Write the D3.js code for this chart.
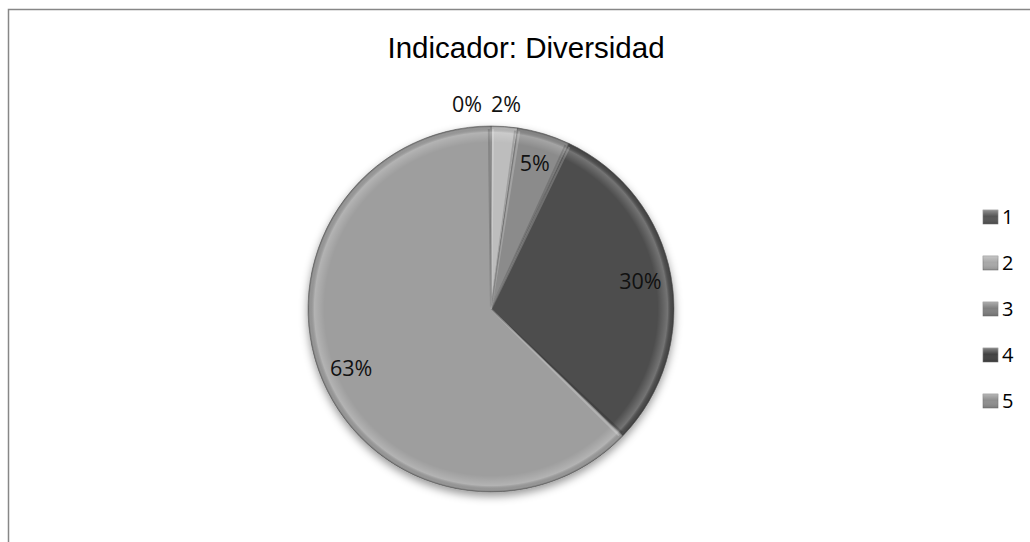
<!DOCTYPE html>
<html><head><meta charset="utf-8">
<script src="https://cdn.jsdelivr.net/npm/d3@7"></script>
<style>html,body{margin:0;padding:0;background:#fff;overflow:hidden}</style>
</head><body>
<script>
const categories = ["1", "2", "3", "4", "5"];
const values = [0, 1, 2, 13, 27];
const colors = ["#595959", "#bdbdbd", "#8b8b8b", "#4d4d4d", "#9e9e9e"];
const legendColors = ["#555555", "#a8a8a8", "#808080", "#414141", "#8e8e8e"];
const title = "Indicador: Diversidad";

const W = 1030, H = 542;
const svg = d3.select("body").append("svg").attr("width", W).attr("height", H);
const defs = svg.append("defs");

// frame
svg.append("rect").attr("x", 8.5).attr("y", 9.5).attr("width", 1100).attr("height", 1100)
  .attr("fill", "none").attr("stroke", "#878787").attr("stroke-width", 1.5);

svg.append("text").attr("x", 526).attr("y", 58).attr("text-anchor", "middle")
  .attr("font-family", "Liberation Sans, Arial, sans-serif").attr("font-size", 29.5)
  .attr("fill", "#000").text(title);

const cx = 491, cy = 309, R = 183;
const total = d3.sum(values);

const shadow = defs.append("filter").attr("id", "sh").attr("x", "-20%").attr("y", "-20%").attr("width", "140%").attr("height", "140%");
shadow.append("feDropShadow").attr("dx", 0).attr("dy", 4).attr("stdDeviation", 4).attr("flood-color", "#000").attr("flood-opacity", 0.4);

const rim = defs.append("radialGradient").attr("id", "rim").attr("gradientUnits", "userSpaceOnUse")
  .attr("cx", 0).attr("cy", 0).attr("r", R);
rim.append("stop").attr("offset", "0.91").attr("stop-color", "#fff").attr("stop-opacity", 0);
rim.append("stop").attr("offset", "0.965").attr("stop-color", "#fff").attr("stop-opacity", 0.22);
rim.append("stop").attr("offset", "0.99").attr("stop-color", "#000").attr("stop-opacity", 0.05);
rim.append("stop").attr("offset", "1").attr("stop-color", "#000").attr("stop-opacity", 0.3);

const pie = d3.pie().sort(null).value(d => d)(values);
const arc = d3.arc().innerRadius(0).outerRadius(R);
const g = svg.append("g").attr("transform", `translate(${cx},${cy})`);

const slices = g.append("g").attr("filter", "url(#sh)");
slices.selectAll("path").data(pie).join("path")
  .attr("d", arc).attr("fill", (d, i) => colors[i])
  .attr("stroke", "#707070").attr("stroke-width", 0.7).attr("stroke-linejoin", "round");

g.append("circle").attr("r", R).attr("fill", "url(#rim)");

// bevel highlight lines along slice edges
g.selectAll("line.edge").data(pie.filter(d => d.value > 0)).join("line")
  .attr("class", "edge")
  .attr("x1", 0).attr("y1", 0)
  .attr("x2", d => Math.sin(d.endAngle - 0.012) * (R - 3))
  .attr("y2", d => -Math.cos(d.endAngle - 0.012) * (R - 3))
  .attr("stroke", "#000").attr("stroke-opacity", 0.15).attr("stroke-width", 2);
g.selectAll("line.edge2").data(pie.filter(d => d.value > 0)).join("line")
  .attr("class", "edge2")
  .attr("x1", 0).attr("y1", 0)
  .attr("x2", d => Math.sin(d.startAngle + 0.012) * (R - 3))
  .attr("y2", d => -Math.cos(d.startAngle + 0.012) * (R - 3))
  .attr("stroke", "#fff").attr("stroke-opacity", 0.2).attr("stroke-width", 2);

// labels
const inner = d3.arc().innerRadius(R * 0.83).outerRadius(R * 0.83);
const outer = d3.arc().innerRadius(R * 1.12).outerRadius(R * 1.12);
const labelFont = "Open Sans, Noto Sans, sans-serif";
pie.forEach((d, i) => {
  const pct = Math.round(d.value / total * 100) + "%";
  const small = d.value / total < 0.035;
  let [x, y] = (small ? outer : inner).centroid(d);
  let anchor = "middle";
  if (d.value === 0) {
    const nb = outer.centroid(pie[i + 1]);
    x = nb[0] - 24; y = nb[1]; anchor = "end";
  }
  g.append("text").attr("x", x).attr("y", y).attr("dy", "0.36em")
    .attr("text-anchor", anchor).attr("font-family", labelFont).attr("font-size", 21.5)
    .attr("fill", "#111").text(pct);
});

// legend
const ly = d3.scalePoint().domain(categories).range([217, 401]);
const lg = svg.append("g");
const mg = defs.append("linearGradient").attr("id", "lgh").attr("x1", 0).attr("y1", 0).attr("x2", 0).attr("y2", 1);
mg.append("stop").attr("offset", "0").attr("stop-color", "#fff").attr("stop-opacity", 0.35);
mg.append("stop").attr("offset", "0.45").attr("stop-color", "#fff").attr("stop-opacity", 0);
mg.append("stop").attr("offset", "1").attr("stop-color", "#000").attr("stop-opacity", 0.15);
categories.forEach((c, i) => {
  const y = ly(c);
  lg.append("rect").attr("x", 983).attr("y", y - 7).attr("width", 15).attr("height", 14)
    .attr("fill", legendColors[i]).attr("stroke", "#777").attr("stroke-width", 0.6);
  lg.append("rect").attr("x", 983).attr("y", y - 7).attr("width", 15).attr("height", 14)
    .attr("fill", "url(#lgh)");
  lg.append("text").attr("x", 1002).attr("y", y).attr("dy", "0.36em")
    .attr("font-family", labelFont).attr("font-size", 20).attr("fill", "#000").text(c);
});
</script>
</body></html>
